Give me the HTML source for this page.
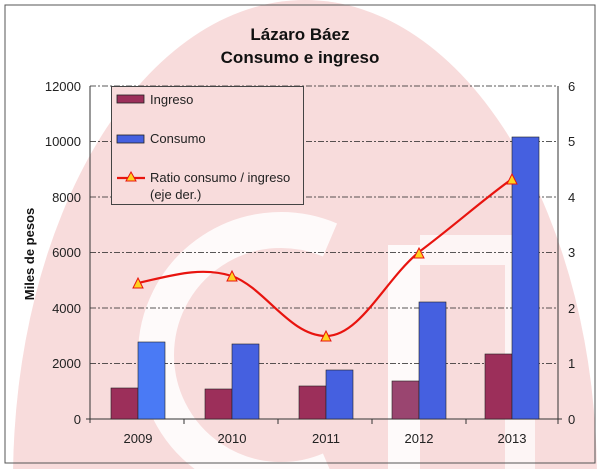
<!DOCTYPE html>
<html><head><meta charset="utf-8"><style>html,body{margin:0;padding:0;background:#fff;width:600px;height:469px;overflow:hidden}svg{display:block}</style></head><body>
<svg width="600" height="469" viewBox="0 0 600 469" xmlns="http://www.w3.org/2000/svg" font-family="Liberation Sans, sans-serif">
<defs><clipPath id="c"><rect x="0" y="0" width="600" height="469"/></clipPath></defs>
<g clip-path="url(#c)">
<ellipse cx="305" cy="480" rx="292" ry="480" fill="#f8dcdc"/>
<path d="M330,240 A125,125 0 1 0 330,470" fill="none" stroke="#fff" stroke-width="36" opacity="0.85"/>
<rect x="388" y="245" width="32" height="230" fill="#fff" opacity="0.85"/>
<path d="M420,250 L520,250 L520,469" fill="none" stroke="#fff" stroke-width="30" opacity="0.7"/>
</g>
<rect x="5" y="5" width="590" height="458" fill="none" stroke="#555" stroke-width="1"/>
<text x="300" y="40" text-anchor="middle" font-size="17" font-weight="bold" fill="#111">Lázaro Báez</text>
<text x="300" y="63" text-anchor="middle" font-size="17" font-weight="bold" fill="#111">Consumo e ingreso</text>
<g stroke="#222" stroke-width="0.8" stroke-dasharray="6,2,2,2">
<line x1="90" y1="86" x2="558" y2="86"/><line x1="90" y1="141.5" x2="558" y2="141.5"/><line x1="90" y1="197" x2="558" y2="197"/><line x1="90" y1="252.5" x2="558" y2="252.5"/><line x1="90" y1="308" x2="558" y2="308"/><line x1="90" y1="363.5" x2="558" y2="363.5"/>
</g>
<g stroke="#333" stroke-width="1">
<line x1="90" y1="86" x2="90" y2="423"/><line x1="558" y1="86" x2="558" y2="419"/><line x1="86" y1="419" x2="562" y2="419"/>
<line x1="184" y1="419" x2="184" y2="424"/><line x1="278" y1="419" x2="278" y2="424"/><line x1="372" y1="419" x2="372" y2="424"/><line x1="466" y1="419" x2="466" y2="424"/><line x1="558" y1="419" x2="558" y2="424"/>
</g>
<g font-size="13" fill="#222" text-anchor="end">
<text x="81" y="91">12000</text><text x="81" y="146">10000</text><text x="81" y="202">8000</text><text x="81" y="257">6000</text><text x="81" y="313">4000</text><text x="81" y="368">2000</text><text x="81" y="424">0</text>
</g>
<g font-size="13" fill="#222">
<text x="568" y="91">6</text><text x="568" y="146">5</text><text x="568" y="202">4</text><text x="568" y="257">3</text><text x="568" y="313">2</text><text x="568" y="368">1</text><text x="568" y="424">0</text>
</g>
<g font-size="13" fill="#222" text-anchor="middle">
<text x="138" y="443">2009</text><text x="232" y="443">2010</text><text x="326" y="443">2011</text><text x="419" y="443">2012</text><text x="512" y="443">2013</text>
</g>
<text transform="translate(34,254) rotate(-90)" text-anchor="middle" font-size="13" font-weight="bold" fill="#111">Miles de pesos</text>
<g stroke="#222" stroke-width="0.6">
<rect x="111" y="388" width="27" height="31" fill="#9c2f5a"/>
<rect x="138" y="342" width="27" height="77" fill="#4a7af5"/>
<rect x="205" y="389" width="27" height="30" fill="#9c2f5a"/>
<rect x="232" y="344" width="27" height="75" fill="#4560e0"/>
<rect x="299" y="386" width="27" height="33" fill="#9c2f5a"/>
<rect x="326" y="370" width="27" height="49" fill="#4560e0"/>
<rect x="392" y="381" width="27" height="38" fill="#9a4570"/>
<rect x="419" y="302" width="27" height="117" fill="#4560e0"/>
<rect x="485" y="354" width="27" height="65" fill="#9c2f5a"/>
<rect x="512" y="137" width="27" height="282" fill="#4560e0"/>
</g>
<path d="M138,283 C170,276 200,266 232,276 C265,288 290,336 326,336 C360,336 385,280 419,252 C455,225 485,198 512,179" fill="none" stroke="#e8140f" stroke-width="2.2"/>
<g fill="#ffd21f" stroke="#e8140f" stroke-width="1">
<path d="M138,278 L143,288 L133,288Z"/><path d="M232,271 L237,281 L227,281Z"/><path d="M326,331 L331,341 L321,341Z"/><path d="M419,248 L424,258 L414,258Z"/><path d="M512,174 L517,184 L507,184Z"/>
</g>
<rect x="111.5" y="86.5" width="192" height="118" fill="#f8dcdc" stroke="#444" stroke-width="1"/>
<rect x="117" y="95" width="27" height="8" fill="#9c2f5a" stroke="#222" stroke-width="0.8"/>
<text x="150" y="104" font-size="13" fill="#222">Ingreso</text>
<rect x="117" y="135" width="27" height="8" fill="#4560e0" stroke="#222" stroke-width="0.8"/>
<text x="150" y="143" font-size="13" fill="#222">Consumo</text>
<line x1="117" y1="178" x2="145" y2="178" stroke="#e8140f" stroke-width="2.2"/>
<path d="M131,172 L136,181 L126,181Z" fill="#ffd21f" stroke="#e8140f"/>
<text x="150" y="182" font-size="13" fill="#222">Ratio consumo / ingreso</text>
<text x="150" y="199" font-size="13" fill="#222">(eje der.)</text>
</svg>
</body></html>
